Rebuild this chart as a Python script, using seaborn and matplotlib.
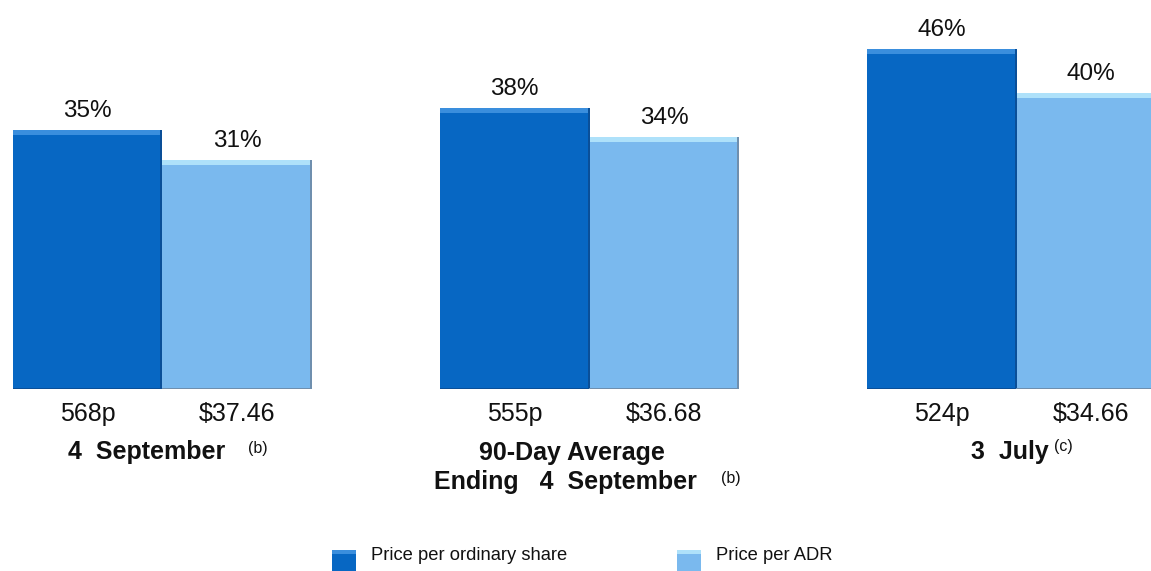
import pandas as pd
import seaborn as sns
import matplotlib.pyplot as plt
from matplotlib.patches import Rectangle
from matplotlib.transforms import blended_transform_factory

# Premium offered, by reference date
groups = ["4 September", "90-Day Average Ending 4 September", "3 July"]
series = ["Price per ordinary share", "Price per ADR"]
premium_share = [35, 38, 46]
premium_adr = [31, 34, 40]
price_share = ["568p", "555p", "524p"]
price_adr = ["$37.46", "$36.68", "$34.66"]

body = {"Price per ordinary share": "#0767C3", "Price per ADR": "#7AB9EE"}
bevel = {"Price per ordinary share": "#3A8EDD", "Price per ADR": "#AEE1FA"}
edge = {"Price per ordinary share": "#0A4F98", "Price per ADR": "#6F8FAE"}

df = pd.DataFrame({
    "group": groups * 2,
    "series": [series[0]] * 3 + [series[1]] * 3,
    "premium": premium_share + premium_adr,
})

sns.set_theme(style="white")
plt.rcParams["font.family"] = ["Liberation Sans", "DejaVu Sans"]

W, H = 1151, 571
fig = plt.figure(figsize=(W / 100, H / 100), dpi=100)
fig.patch.set_facecolor("white")
ax = fig.add_axes([0, 1 - 389 / H, 1, 389 / H])

sns.barplot(data=df, x="group", y="premium", hue="series", order=groups,
            hue_order=series, palette=body, width=0.7, saturation=1,
            linewidth=0, legend=False, ax=ax)

ax.set_xlim(-162.5 / 427, (W - 162.5) / 427)
ax.set_ylim(0, 389 / 7.4)
ax.axis("off")

px_y = (389 / 7.4) / 389      # data units per pixel, vertical
px_x = 1 / 427                # data units per pixel, horizontal

bars = sorted(ax.patches, key=lambda p: p.get_x())
labels_price = []
kinds = []
for ps, pa in zip(price_share, price_adr):
    labels_price += [ps, pa]
    kinds += series

mix = blended_transform_factory(ax.transData, fig.transFigure)
for bar, price, kind in zip(bars, labels_price, kinds):
    x, w, h = bar.get_x(), bar.get_width(), bar.get_height()
    # bevelled top and shaded edges
    ax.add_patch(Rectangle((x, h - 5 * px_y), w, 5 * px_y, color=bevel[kind], lw=0, zorder=3))
    ax.add_patch(Rectangle((x + w - 2 * px_x, 0), 2 * px_x, h, color=edge[kind], lw=0, zorder=4))
    ax.add_patch(Rectangle((x, 0), w, 1.5 * px_y, color=edge[kind], lw=0, zorder=4))
    cx = x + w / 2
    ax.annotate(f"{h:.0f}%", (cx, h), xytext=(0, 9.4), textcoords="offset points",
                ha="center", va="baseline", fontsize=17.5, color="#111111")
    ax.text(cx, 1 - 414 / H, price, transform=mix, ha="center", va="center",
            fontsize=18, color="#111111")


def ftext(px, py, s, **kw):
    fig.text(px / W, 1 - py / H, s, ha="center", va="center", color="#111111", **kw)


ftext(147, 452, "4  September", fontsize=18, fontweight="bold")
ftext(258, 449, "(b)", fontsize=11.5)
ftext(572, 453, "90-Day Average", fontsize=18, fontweight="bold")
ftext(565, 482, "Ending   4  September", fontsize=18, fontweight="bold")
ftext(731, 478, "(b)", fontsize=11.5)
ftext(1010, 452, "3  July", fontsize=18, fontweight="bold")
ftext(1063, 446, "(c)", fontsize=11.5)

# legend keys
for key_x, text_x, kind in [(332, 371, series[0]), (677, 716, series[1])]:
    fig.add_artist(Rectangle((key_x / W, 1 - 574 / H), 24 / W, 24 / H,
                             transform=fig.transFigure, color=body[kind], lw=0))
    fig.add_artist(Rectangle((key_x / W, 1 - 554 / H), 24 / W, 4 / H,
                             transform=fig.transFigure, color=bevel[kind], lw=0))
    fig.text(text_x / W, 1 - 556 / H, kind, ha="left", va="center",
             fontsize=13.2, color="#111111")

fig.savefig("out.png", dpi=100, facecolor="white")
